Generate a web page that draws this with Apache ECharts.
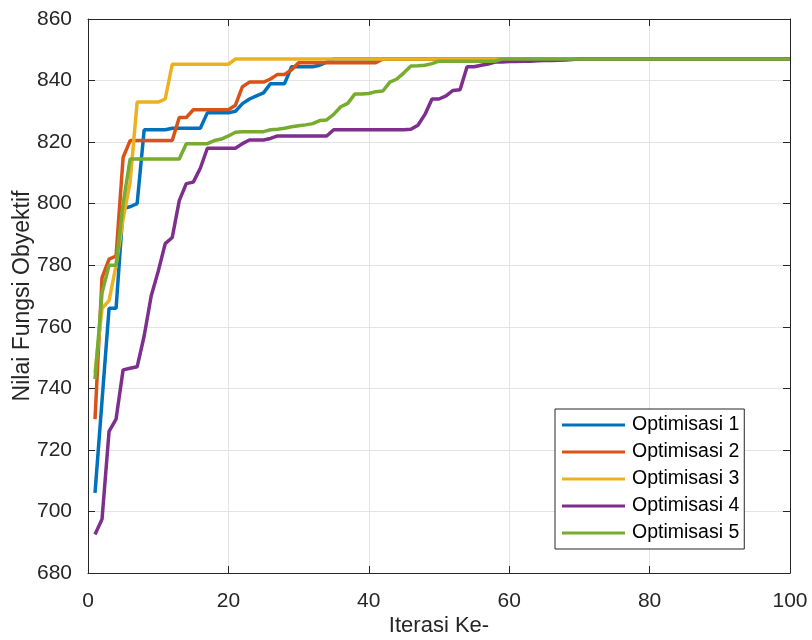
<!DOCTYPE html>
<html>
<head>
<meta charset="utf-8">
<script src="https://cdn.jsdelivr.net/npm/echarts@6/dist/echarts.min.js"></script>
<style>html,body{margin:0;padding:0;background:#fff;}#c{width:812px;height:640px;}</style>
</head>
<body>
<div id="c"></div>
<script>
const seriesNames = ['Optimisasi 1', 'Optimisasi 2', 'Optimisasi 3', 'Optimisasi 4', 'Optimisasi 5'];
const xTicks = [0, 20, 40, 60, 80, 100];
const yTicks = [680, 700, 720, 740, 760, 780, 800, 820, 840, 860];

const opt1 = [706, 736, 766, 766, 798.5, 799, 800, 824, 824, 824,
  824, 824.5, 824.5, 824.5, 824.5, 824.5, 829.5, 829.5, 829.5, 829.5,
  830, 832.5, 834, 835, 836, 839, 839, 839, 844.5, 844.5,
  844.5, 844.5, 845, 846, 847, 847, 847, 847, 847, 847,
  847, 847, 847, 847, 847, 847, 847, 847, 847, 847,
  847, 847, 847, 847, 847, 847, 847, 847, 847, 847,
  847, 847, 847, 847, 847, 847, 847, 847, 847, 847,
  847, 847, 847, 847, 847, 847, 847, 847, 847, 847,
  847, 847, 847, 847, 847, 847, 847, 847, 847, 847,
  847, 847, 847, 847, 847, 847, 847, 847, 847, 847];

const opt2 = [730, 776, 782, 783, 815, 820.5, 820.5, 820.5, 820.5, 820.5,
  820.5, 820.5, 828, 828, 830.5, 830.5, 830.5, 830.5, 830.5, 830.5,
  832, 838, 839.5, 839.5, 839.5, 840.5, 842, 842, 843.5, 845.8,
  845.8, 845.8, 845.8, 845.8, 845.8, 845.8, 845.8, 845.8, 845.8, 845.8,
  845.8, 847, 847, 847, 847, 847, 847, 847, 847, 847,
  847, 847, 847, 847, 847, 847, 847, 847, 847, 847,
  847, 847, 847, 847, 847, 847, 847, 847, 847, 847,
  847, 847, 847, 847, 847, 847, 847, 847, 847, 847,
  847, 847, 847, 847, 847, 847, 847, 847, 847, 847,
  847, 847, 847, 847, 847, 847, 847, 847, 847, 847];

const opt3 = [745, 766, 768.5, 780, 795, 807, 833, 833, 833, 833,
  834, 845.3, 845.3, 845.3, 845.3, 845.3, 845.3, 845.3, 845.3, 845.3,
  847, 847, 847, 847, 847, 847, 847, 847, 847, 847,
  847, 847, 847, 847, 847, 847, 847, 847, 847, 847,
  847, 847, 847, 847, 847, 847, 847, 847, 847, 847,
  847, 847, 847, 847, 847, 847, 847, 847, 847, 847,
  847, 847, 847, 847, 847, 847, 847, 847, 847, 847,
  847, 847, 847, 847, 847, 847, 847, 847, 847, 847,
  847, 847, 847, 847, 847, 847, 847, 847, 847, 847,
  847, 847, 847, 847, 847, 847, 847, 847, 847, 847];

const opt4 = [692.5, 697.5, 726, 730, 746, 746.5, 747, 757, 770, 778,
  787, 789, 801, 806.5, 807, 811.5, 818, 818, 818, 818,
  818, 819.5, 820.7, 820.7, 820.7, 821.2, 822, 822, 822, 822,
  822, 822, 822, 822, 824, 824, 824, 824, 824, 824,
  824, 824, 824, 824, 824, 824.2, 825.5, 829, 834, 834,
  835, 836.8, 837, 844.5, 844.5, 845, 845.4, 846, 846, 846.2,
  846.2, 846.3, 846.3, 846.4, 846.5, 846.5, 846.6, 846.7, 846.8, 847,
  847, 847, 847, 847, 847, 847, 847, 847, 847, 847,
  847, 847, 847, 847, 847, 847, 847, 847, 847, 847,
  847, 847, 847, 847, 847, 847, 847, 847, 847, 847];

const opt5 = [743, 771, 780, 780, 800, 814.5, 814.5, 814.5, 814.5, 814.5,
  814.5, 814.5, 814.5, 819.5, 819.5, 819.5, 819.5, 820.5, 821, 822,
  823.2, 823.4, 823.4, 823.4, 823.4, 824, 824.2, 824.5, 825, 825.3,
  825.6, 826, 827, 827.2, 829, 831.5, 832.6, 835.6, 835.6, 835.8,
  836.4, 836.6, 839.5, 840.5, 842.5, 844.7, 844.8, 845, 845.5, 846.3,
  846.3, 846.3, 846.3, 846.3, 846.3, 846.3, 846.3, 846.3, 847, 847,
  847, 847, 847, 847, 847, 847, 847, 847, 847, 847,
  847, 847, 847, 847, 847, 847, 847, 847, 847, 847,
  847, 847, 847, 847, 847, 847, 847, 847, 847, 847,
  847, 847, 847, 847, 847, 847, 847, 847, 847, 847];

const allSeries = [opt1, opt2, opt3, opt4, opt5];
const colors = ['#0072BD', '#D95319', '#EDB120', '#7E2F8E', '#77AC30'];
const FONT = 'Liberation Sans';
const AX = '#262626';

const chart = echarts.init(document.getElementById('c'), null, {renderer: 'canvas'});

const toPairs = arr => arr.map((v, i) => [i + 1, v]);

const baseX = {
  type: 'value', min: xTicks[0], max: xTicks[xTicks.length - 1], interval: 20,
  axisLine: {show: true, onZero: false, lineStyle: {color: AX, width: 1}},
  axisTick: {show: true, inside: true, length: 7, lineStyle: {color: AX}},
  splitLine: {show: false}
};
const baseY = {
  type: 'value', min: yTicks[0], max: yTicks[yTicks.length - 1], interval: 20,
  axisLine: {show: true, onZero: false, lineStyle: {color: AX, width: 1}},
  axisTick: {show: true, inside: true, length: 7, lineStyle: {color: AX}},
  splitLine: {show: false}
};

chart.setOption({
  animation: false,
  backgroundColor: '#ffffff',
  color: colors,
  grid: {left: 88, right: 22, top: 19, bottom: 67, containLabel: false, outerBoundsMode: 'none'},
  legend: {
    show: true,
    orient: 'vertical',
    left: 555, top: 409,
    padding: [6, 5, 6, 7],
    itemGap: 7,
    itemWidth: 63, itemHeight: 3,
    icon: 'rect',
    backgroundColor: '#ffffff',
    borderColor: AX, borderWidth: 1, borderRadius: 0,
    textStyle: {fontFamily: FONT, fontSize: 19.5, color: '#000', lineHeight: 20, padding: [0, 0, 0, 2]},
    data: seriesNames
  },
  xAxis: [
    Object.assign({}, baseX, {
      position: 'bottom',
      name: 'Iterasi Ke-', nameLocation: 'middle', nameGap: 42, nameMoveOverlap: false,
      nameTextStyle: {fontFamily: FONT, fontSize: 22, color: AX},
      axisLabel: {show: true, margin: 18, fontFamily: FONT, fontSize: 21, color: AX},
      splitLine: {show: true, lineStyle: {color: '#e3e3e3', width: 1}}
    }),
    Object.assign({}, baseX, {position: 'top', axisLabel: {show: false}})
  ],
  yAxis: [
    Object.assign({}, baseY, {
      position: 'left',
      name: 'Nilai Fungsi Obyektif', nameLocation: 'middle', nameGap: 54, nameMoveOverlap: false,
      nameTextStyle: {fontFamily: FONT, fontSize: 23, color: AX},
      axisLabel: {show: true, margin: 16, fontFamily: FONT, fontSize: 21, color: AX},
      splitLine: {show: true, lineStyle: {color: '#e3e3e3', width: 1}}
    }),
    Object.assign({}, baseY, {position: 'right', axisLabel: {show: false}})
  ],
  series: allSeries.map((arr, i) => ({
    name: seriesNames[i],
    type: 'line',
    xAxisIndex: 0, yAxisIndex: 0,
    data: toPairs(arr),
    showSymbol: false,
    symbol: 'none',
    lineStyle: {width: 3.5, color: colors[i]},
    itemStyle: {color: colors[i]},
    z: 2 + i
  }))
});
</script>
</body>
</html>
